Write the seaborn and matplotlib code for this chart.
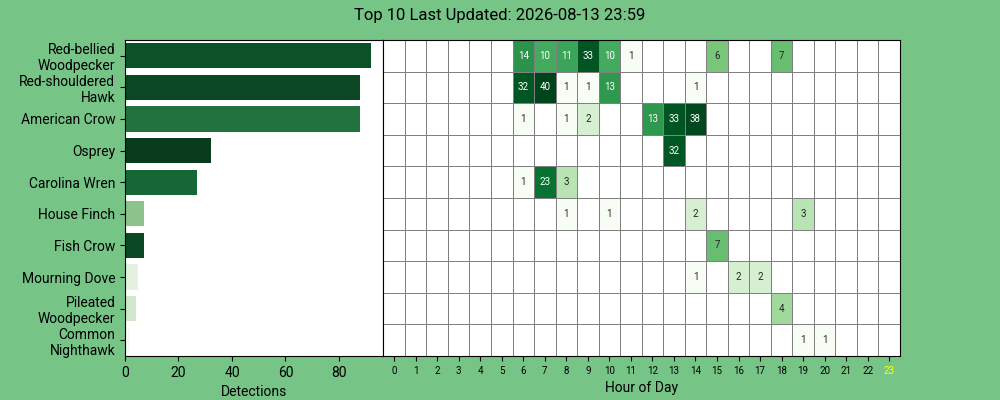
import textwrap
import numpy as np
import pandas as pd
import matplotlib
matplotlib.use('Agg')
import matplotlib.pyplot as plt
from matplotlib.colors import LogNorm
import seaborn as sns

plt.rcParams['font.family'] = ['Roboto', 'DejaVu Sans']

species = ['Red-bellied Woodpecker', 'Red-shouldered Hawk', 'American Crow', 'Osprey',
           'Carolina Wren', 'House Finch', 'Fish Crow', 'Mourning Dove',
           'Pileated Woodpecker', 'Common Nighthawk']

# max confidence per species (drives bar colour)
max_conf = [0.93, 0.94, 0.90, 0.95, 0.91, 0.815, 0.9375, 0.735, 0.755, 0.70]

# detections per hour {hour: count}
hourly = [
    {6: 14, 7: 10, 8: 11, 9: 33, 10: 10, 11: 1, 15: 6, 18: 7},
    {6: 32, 7: 40, 8: 1, 9: 1, 10: 13, 14: 1},
    {6: 1, 8: 1, 9: 2, 12: 13, 13: 33, 14: 38},
    {13: 32},
    {6: 1, 7: 23, 8: 3},
    {8: 1, 10: 1, 14: 2, 19: 3},
    {15: 7},
    {14: 1, 16: 2, 17: 2},
    {18: 4},
    {19: 1, 20: 1},
]
hours = list(range(24))
current_hour = 23
title = "Top 10 Last Updated: 2026-08-13 23:59"

heat = pd.DataFrame(0, index=species, columns=hours)
for name, counts in zip(species, hourly):
    for h, c in counts.items():
        heat.loc[name, h] = c
totals = heat.sum(axis=1)
annot = heat.astype(str).where(heat > 0, '')

f, axs = plt.subplots(1, 2, figsize=(10, 4), gridspec_kw=dict(width_ratios=[3, 6]), facecolor='#77C487')
plt.subplots_adjust(wspace=0, hspace=0)

norm = plt.Normalize(min(max_conf), max(max_conf))
colors = plt.cm.Greens(norm(np.array(max_conf))).tolist()

bars = pd.DataFrame({'Com_Name': species, 'Detections': totals.values})
plot = sns.barplot(data=bars, y='Com_Name', x='Detections', hue='Com_Name', legend=False,
                   palette=colors, order=species, ax=axs[0], linewidth=0)
yticklabels = ['\n'.join(textwrap.wrap(t.get_text(), 15)) for t in plot.get_yticklabels()]
plot.set_yticks(plot.get_yticks())
plot.set_yticklabels(yticklabels, fontsize=10)
plot.set(ylabel=None)
plot.set(xlabel="Detections")

plot = sns.heatmap(heat, norm=LogNorm(), annot=annot.values, annot_kws={"fontsize": 7}, fmt="",
                   cmap="Greens", square=False, cbar=False, linewidths=0.5, linecolor="Grey",
                   ax=axs[1], yticklabels=False)
for label in plot.get_xticklabels():
    if int(label.get_text()) == current_hour:
        label.set_color('yellow')
plot.set_xticklabels(plot.get_xticklabels(), rotation=0, size=7)
for _, spine in plot.spines.items():
    spine.set_visible(True)
plot.set(ylabel=None)
plot.set(xlabel="Hour of Day")

f.subplots_adjust(top=0.9)
plt.suptitle(title)
plt.savefig('out.png', facecolor=f.get_facecolor(), dpi=100)
